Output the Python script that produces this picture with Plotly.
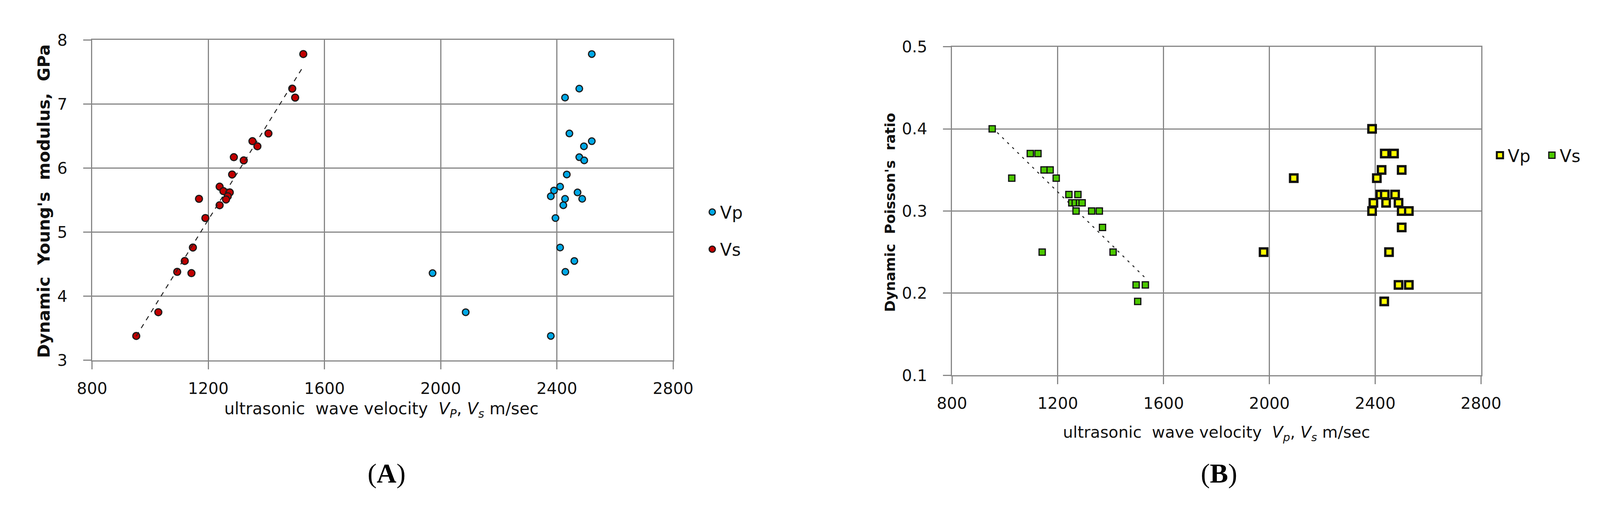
import numpy as np
import plotly.graph_objects as go

W, H = 4124, 1296

# ---------------- data ----------------
# Panel A: dynamic Young's modulus vs velocity
a_vp_x = [2520, 2477, 2428, 2443, 2520, 2493, 2477, 2494, 2434, 2411, 2390, 2379,
          2471, 2487, 2428, 2422, 2395, 2411, 2460, 1972, 2429, 2086, 2379]
a_vp_y = [7.78, 7.24, 7.10, 6.54, 6.42, 6.34, 6.17, 6.12, 5.90, 5.71, 5.65, 5.56,
          5.62, 5.52, 5.52, 5.42, 5.22, 4.76, 4.55, 4.36, 4.38, 3.75, 3.38]
a_vs_x = [1527, 1489, 1499, 1407, 1352, 1369, 1288, 1322, 1282, 1239, 1252, 1274,
          1267, 1261, 1168, 1239, 1190, 1147, 1119, 1093, 1142, 1028, 952]
a_vs_y = [7.78, 7.24, 7.10, 6.54, 6.42, 6.34, 6.17, 6.12, 5.90, 5.71, 5.64, 5.62,
          5.56, 5.51, 5.52, 5.42, 5.22, 4.76, 4.55, 4.38, 4.36, 3.75, 3.38]

# Panel B: dynamic Poisson's ratio vs velocity
b_vp_x = [2388, 2436, 2471, 2424, 2500, 2406, 2092, 2419, 2436, 2475, 2393, 2441,
          2488, 2388, 2500, 2527, 2500, 1978, 2452, 2488, 2527, 2434]
b_vp_y = [0.40, 0.37, 0.37, 0.35, 0.35, 0.34, 0.34, 0.32, 0.32, 0.32, 0.31, 0.31,
          0.31, 0.30, 0.30, 0.30, 0.28, 0.25, 0.25, 0.21, 0.21, 0.19]
b_vs_x = [952, 1096, 1125, 1148, 1171, 1026, 1194, 1242, 1276, 1253, 1266, 1282,
          1292, 1269, 1328, 1357, 1369, 1141, 1409, 1496, 1531, 1502]
b_vs_y = [0.40, 0.37, 0.37, 0.35, 0.35, 0.34, 0.34, 0.32, 0.32, 0.31, 0.31, 0.31,
          0.31, 0.30, 0.30, 0.30, 0.28, 0.25, 0.25, 0.21, 0.21, 0.19]

x_ticks = [800, 1200, 1600, 2000, 2400, 2800]
a_y_ticks = [3, 4, 5, 6, 7, 8]
b_y_ticks = [0.1, 0.2, 0.3, 0.4, 0.5]
b_y_labels = ["0.1", "0.2", "0.3", "0.4", "0.5"]

# ---------------- styling ----------------
GRID = "#878787"
TICKFONT = dict(family="DejaVu Sans", size=41, color="#111111")
A_XTITLEFONT = dict(family="DejaVu Sans", size=42, color="#111111")
B_XTITLEFONT = dict(family="DejaVu Sans", size=41, color="#111111")
A_YTITLEFONT = dict(family="DejaVu Sans", size=43, color="#111111")
B_YTITLEFONT = dict(family="DejaVu Sans", size=36, color="#111111")
LEGFONT = dict(family="DejaVu Sans", size=44, color="#111111")


def trend(x, y):
    k, b = np.polyfit(x, y, 1)
    xs = [min(x), max(x)]
    return xs, [k * v + b for v in xs]


fig = go.Figure()

# Panel A
fig.add_trace(go.Scatter(x=a_vp_x, y=a_vp_y, mode="markers", name="Vp",
                         marker=dict(symbol="circle", size=17, color="#00a8e6",
                                     line=dict(color="#1a1a1a", width=3)),
                         xaxis="x", yaxis="y", legend="legend"))
fig.add_trace(go.Scatter(x=a_vs_x, y=a_vs_y, mode="markers", name="Vs",
                         marker=dict(symbol="circle", size=18, color="#c00000",
                                     line=dict(color="#1a1a1a", width=3)),
                         xaxis="x", yaxis="y", legend="legend2"))
tx, ty = trend(a_vs_x, a_vs_y)
fig.add_trace(go.Scatter(x=tx, y=ty, mode="lines", showlegend=False,
                         line=dict(color="#222222", width=2.5, dash="12px,12px"),
                         xaxis="x", yaxis="y"))

# Panel B
tx, ty = trend(b_vs_x, b_vs_y)
fig.add_trace(go.Scatter(x=tx, y=ty, mode="lines", showlegend=False,
                         line=dict(color="#222222", width=2.5, dash="6px,12px"),
                         xaxis="x2", yaxis="y2"))
fig.add_trace(go.Scatter(x=b_vp_x, y=b_vp_y, mode="markers", name="Vp",
                         marker=dict(symbol="square", size=19, color="#ffff00",
                                     line=dict(color="#111111", width=6)),
                         xaxis="x2", yaxis="y2", legend="legend3"))
fig.add_trace(go.Scatter(x=b_vs_x, y=b_vs_y, mode="markers", name="Vs",
                         marker=dict(symbol="square", size=16, color="#4cc800",
                                     line=dict(color="#111111", width=3)),
                         xaxis="x2", yaxis="y2", legend="legend4"))


def px_dom_x(a, b):
    return [a / W, b / W]


def px_dom_y(top, bottom):
    return [1 - bottom / H, 1 - top / H]


axis_common = dict(showgrid=True, gridcolor=GRID, gridwidth=3,
                   showline=True, linecolor=GRID, linewidth=3, mirror=True,
                   ticks="outside", ticklen=20, tickwidth=3, tickcolor=GRID,
                   tickfont=TICKFONT, zeroline=False, fixedrange=True)

fig.update_layout(
    width=W, height=H,
    margin=dict(l=0, r=0, t=0, b=0),
    paper_bgcolor="white", plot_bgcolor="white",
    xaxis=dict(domain=px_dom_x(193, 1714), range=[800, 2800], tickvals=x_ticks,
               anchor="y", ticklabelstandoff=14, **axis_common),
    yaxis=dict(domain=px_dom_y(73, 925), range=[3, 8], tickvals=a_y_ticks,
               anchor="x", ticklabelstandoff=32, **axis_common),
    xaxis2=dict(domain=px_dom_x(2444, 3829), range=[800, 2800], tickvals=x_ticks,
                anchor="y2", ticklabelstandoff=14, **axis_common),
    yaxis2=dict(domain=px_dom_y(91, 965), range=[0.1, 0.5], tickvals=b_y_ticks,
                ticktext=b_y_labels, anchor="x2", ticklabelstandoff=32, **axis_common),
    legend=dict(x=1796 / W, y=1 - 531 / H, xanchor="left", yanchor="middle",
                font=LEGFONT, bgcolor="rgba(0,0,0,0)"),
    legend2=dict(x=1796 / W, y=1 - 630 / H, xanchor="left", yanchor="middle",
                 font=LEGFONT, bgcolor="rgba(0,0,0,0)"),
    legend3=dict(x=3858 / W, y=1 - 380 / H, xanchor="left", yanchor="middle",
                 font=LEGFONT, bgcolor="rgba(0,0,0,0)"),
    legend4=dict(x=3994 / W, y=1 - 380 / H, xanchor="left", yanchor="middle",
                 font=LEGFONT, bgcolor="rgba(0,0,0,0)"),
    showlegend=True,
)

ann = [
    dict(text="<b>Dynamic  Young's  modulus,  GPa</b>", x=67 / W, y=1 - 502 / H,
         textangle=-90, font=A_YTITLEFONT),
    dict(text="<b>Dynamic  Poisson's  ratio</b>", x=2282 / W, y=1 - 532 / H,
         textangle=-90, font=B_YTITLEFONT),
    dict(text="ultrasonic  wave velocity  <i>V<sub>P</sub></i>, <i>V<sub>s</sub></i> m/sec",
         x=950 / W, y=1 - 1057 / H, font=A_XTITLEFONT),
    dict(text="ultrasonic  wave velocity  <i>V<sub>p</sub></i>, <i>V<sub>s</sub></i> m/sec",
         x=3137 / W, y=1 - 1119 / H, font=B_XTITLEFONT),
    dict(text="(<b>A</b>)", x=964 / W, y=1 - 1226 / H,
         font=dict(family="Liberation Serif", size=70, color="black")),
    dict(text="(<b>B</b>)", x=3143 / W, y=1 - 1226 / H,
         font=dict(family="Liberation Serif", size=70, color="black")),
]
for a in ann:
    a.update(xref="paper", yref="paper", showarrow=False, xanchor="center", yanchor="middle")
fig.update_layout(annotations=ann)

fig.write_html("out.html")
